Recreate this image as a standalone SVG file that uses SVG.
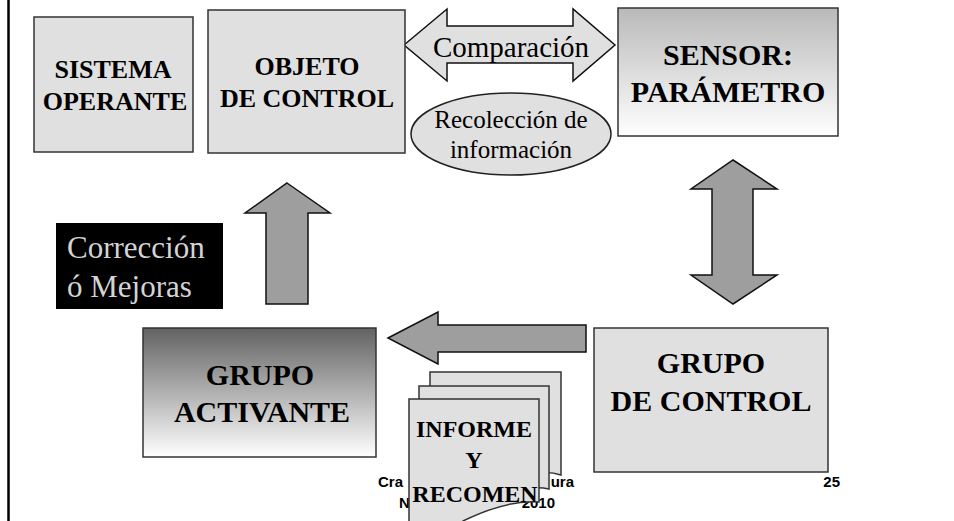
<svg xmlns="http://www.w3.org/2000/svg" width="954" height="521" viewBox="0 0 954 521">
<style>
.box{fill:#e0e0e0;stroke:#333;stroke-width:1.5}
.arrow{fill:#9e9e9e;stroke:#111;stroke-width:1.5;stroke-linejoin:miter}
.t{font-family:'Liberation Serif','DejaVu Serif',serif;font-weight:bold;fill:#000;text-anchor:middle}
.r{font-family:'Liberation Serif','DejaVu Serif',serif;fill:#000;text-anchor:middle}
.c{font-family:'Liberation Serif','DejaVu Serif',serif;fill:#d4d4d4;font-size:31px}
.f{font-family:'Liberation Sans',Arial,sans-serif;font-weight:bold;font-size:15px;fill:#000}
</style>
<defs>
<linearGradient id="gSensor" x1="0" y1="0" x2="0" y2="1">
<stop offset="0" stop-color="#b9b9b9"/>
<stop offset="1" stop-color="#ffffff"/>
</linearGradient>
<linearGradient id="gAct" x1="0" y1="0" x2="0" y2="1">
<stop offset="0" stop-color="#626262"/>
<stop offset="1" stop-color="#ffffff"/>
</linearGradient>
</defs>
<rect width="954" height="521" fill="#ffffff"/>
<line x1="8.5" y1="0" x2="8.5" y2="521" stroke="#000" stroke-width="2.5"/>

<g id="footer">
<text class="f" x="378" y="487">Cra</text>
<text class="f" x="574" y="487" text-anchor="end">ura</text>
<text class="f" x="399" y="508">N</text>
<text class="f" x="555" y="508" text-anchor="end">2010</text>
<text class="f" x="840" y="487" text-anchor="end">25</text>
</g>

<g id="connectors">
<polygon class="arrow" style="fill:#e0e0e0" points="404,45 447,9 447,26 573,26 573,9 615,45 573,81 573,63 447,63 447,81"/>
<text class="r" x="511" y="57" font-size="29">Comparación</text>
<polygon class="arrow" points="287,183 330,213 308,213 308,304 266,304 266,213 245,213"/>
<polygon class="arrow" points="733,160 777,189 753,189 753,275 777,275 733,304 691,275 712,275 712,189 691,189"/>
<polygon class="arrow" points="388,338 438,312 438,325 586,325 586,352 438,352 438,364"/>
</g>

<g id="sistema-operante">
<rect class="box" x="34" y="17" width="159" height="135"/>
<text class="t" x="113" y="78" font-size="26">SISTEMA</text>
<text class="t" x="115" y="110" font-size="26">OPERANTE</text>
</g>

<g id="objeto-control">
<rect class="box" x="208" y="10" width="197" height="143"/>
<text class="t" x="307" y="75" font-size="26">OBJETO</text>
<text class="t" x="307" y="107" font-size="26">DE CONTROL</text>
</g>

<g id="recoleccion">
<ellipse cx="511" cy="134" rx="100" ry="41" fill="#e0e0e0" stroke="#222" stroke-width="1.5"/>
<text class="r" x="511" y="128" font-size="25">Recolección de</text>
<text class="r" x="511" y="158" font-size="25">información</text>
</g>

<g id="sensor">
<rect x="618" y="8" width="220" height="128" fill="url(#gSensor)" stroke="#333" stroke-width="1.5"/>
<text class="t" x="728" y="65" font-size="30">SENSOR:</text>
<text class="t" x="728" y="102" font-size="30">PARÁMETRO</text>
</g>

<g id="correccion">
<rect x="56" y="223" width="167" height="86" fill="#000"/>
<text class="c" x="67" y="258">Corrección</text>
<text class="c" x="67" y="297">ó Mejoras</text>
</g>

<g id="grupo-activante">
<rect x="143" y="328" width="233" height="129" fill="url(#gAct)" stroke="#333" stroke-width="1.5"/>
<text class="t" x="260" y="385" font-size="30">GRUPO</text>
<text class="t" x="262" y="422" font-size="30">ACTIVANTE</text>
</g>

<g id="grupo-control">
<rect class="box" x="594" y="328" width="234" height="144"/>
<text class="t" x="711" y="373" font-size="30">GRUPO</text>
<text class="t" x="711" y="411" font-size="30">DE CONTROL</text>
</g>

<g id="informe">
<path class="box" d="M430,372 H561 V475 C545,470 530,474 520,480 H430 Z"/>
<path class="box" d="M419,386 H549 V489 C532,485 518,490 505,497 H419 Z"/>
<path class="box" d="M409,399 H539 V502 C515,500 490,508 463,521 L460,530 H409 Z"/>
<text class="t" x="474" y="437" font-size="24">INFORME</text>
<text class="t" x="474" y="468" font-size="24">Y</text>
<text class="t" x="475" y="502" font-size="24">RECOMEN</text>
</g>
</svg>
